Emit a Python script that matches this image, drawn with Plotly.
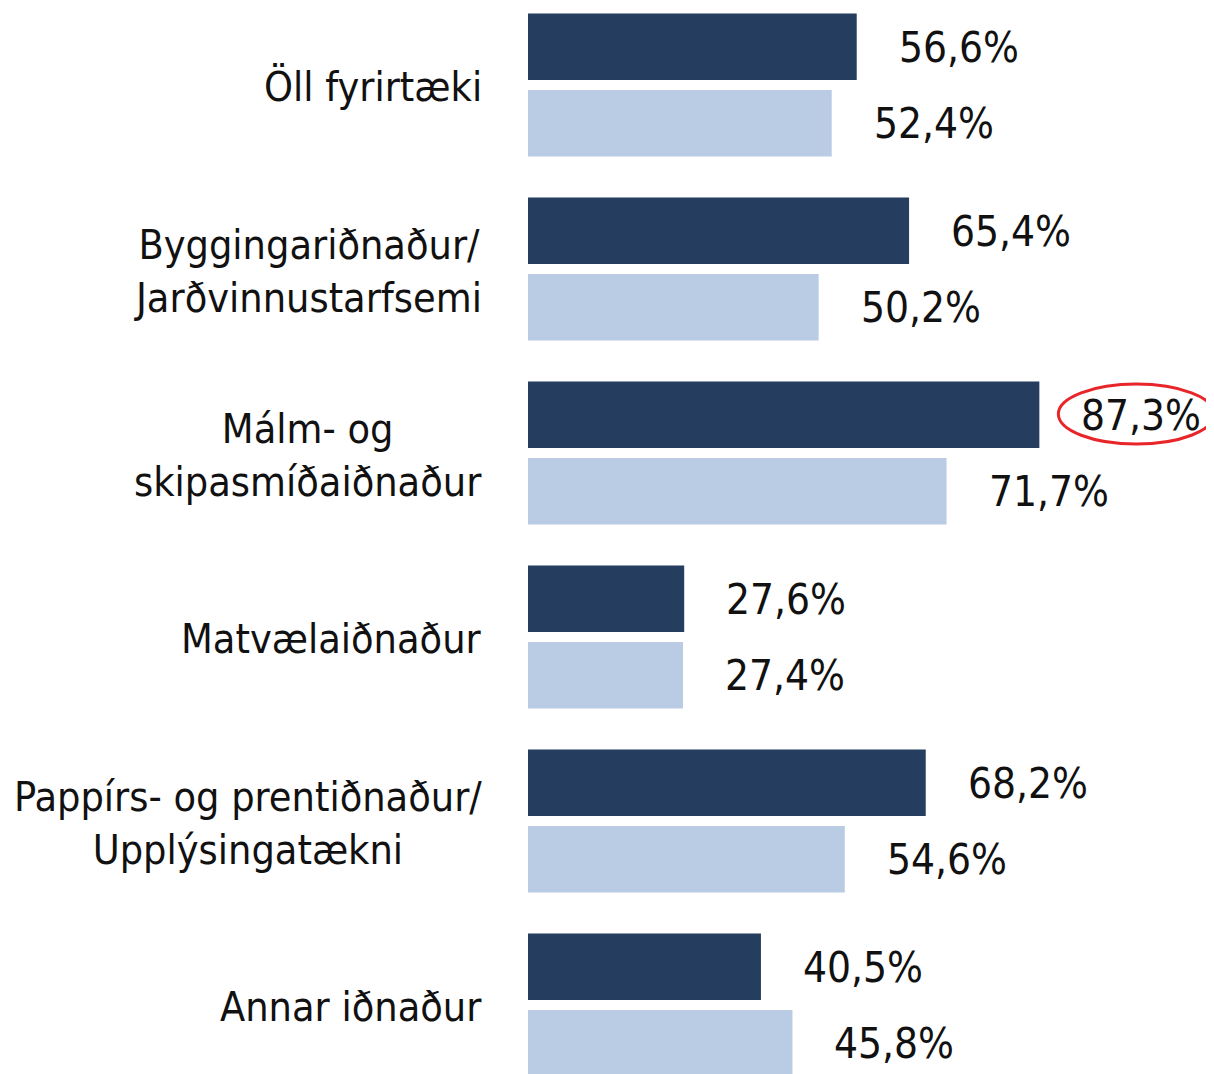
import plotly.graph_objects as go

# Categories (top to bottom) and the two series
CATEGORIES = [
    "Öll fyrirtæki",
    "Byggingariðnaður/<br>Jarðvinnustarfsemi",
    "Málm- og<br>skipasmíðaiðnaður",
    "Matvælaiðnaður",
    "Pappírs- og prentiðnaður/<br>Upplýsingatækni",
    "Annar iðnaður",
]
SERIES_DARK = [56.6, 65.4, 87.3, 27.6, 68.2, 40.5]
SERIES_LIGHT = [52.4, 50.2, 71.7, 27.4, 54.6, 45.8]
HIGHLIGHT_INDEX = 2  # "87,3%" is circled in red

DARK = "#253d5e"
LIGHT = "#b9cce4"
FONT = "Liberation Sans Narrow, Arial Narrow, DejaVu Sans Condensed, Liberation Sans, sans-serif"


def pct(v):
    return f"{v:.1f}".replace(".", ",") + "%"


ypos = list(range(len(CATEGORIES)))

fig = go.Figure()
fig.add_trace(go.Bar(x=SERIES_DARK, y=ypos, orientation="h",
                     marker=dict(color=DARK, line=dict(width=0))))
fig.add_trace(go.Bar(x=SERIES_LIGHT, y=ypos, orientation="h",
                     marker=dict(color=LIGHT, line=dict(width=0))))

SLOT_SHIFT = 38  # half a bar slot, in pixels

for i, (d, l) in enumerate(zip(SERIES_DARK, SERIES_LIGHT)):
    fig.add_annotation(x=d, y=i, text=pct(d), showarrow=False, xanchor="left",
                       xshift=40, yshift=SLOT_SHIFT,
                       font=dict(size=42, color="#111111", family=FONT))
    fig.add_annotation(x=l, y=i, text=pct(l), showarrow=False, xanchor="left",
                       xshift=40, yshift=-SLOT_SHIFT,
                       font=dict(size=42, color="#111111", family=FONT))
    fig.add_annotation(x=0, xref="paper", y=i, text=CATEGORIES[i], showarrow=False,
                       xanchor="right", align="center", xshift=-44, yshift=-2,
                       font=dict(size=41, color="#111111", family=FONT))

# red ellipse around the highlighted value
fig.add_shape(type="circle", xref="x", yref="y",
              xsizemode="pixel", ysizemode="pixel",
              xanchor=SERIES_DARK[HIGHLIGHT_INDEX], yanchor=HIGHLIGHT_INDEX,
              x0=19, x1=175, y0=9, y1=69,
              line=dict(color="#e8262a", width=3))

fig.update_layout(
    width=1214, height=1074,
    margin=dict(l=520, r=0, t=0, b=0),
    paper_bgcolor="white", plot_bgcolor="white",
    barmode="group", bargap=0.1685, bargroupgap=0.13,
    showlegend=False,
    xaxis=dict(range=[1.345, 118.0], visible=False, showgrid=False, zeroline=False),
    yaxis=dict(range=[5.418, -0.4185], visible=False, showgrid=False, zeroline=False),
)

fig.write_html("out.html")
